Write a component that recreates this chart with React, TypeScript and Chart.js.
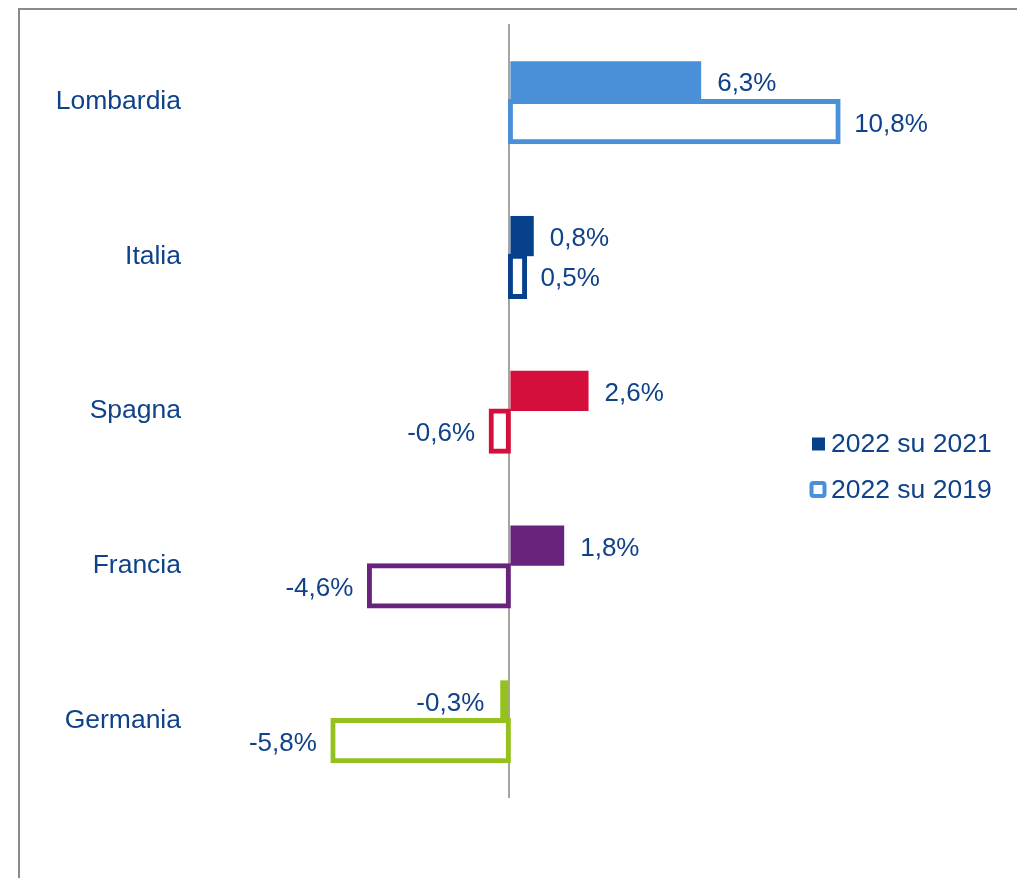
import React, { useEffect, useRef } from "react";
import { Chart, registerables } from "chart.js";

Chart.register(...registerables);

const categories = ["Lombardia", "Italia", "Spagna", "Francia", "Germania"];
const seriesLabels = ["2022 su 2021", "2022 su 2019"];
const values2021 = [6.3, 0.8, 2.6, 1.8, -0.3];
const values2019 = [10.8, 0.5, -0.6, -4.6, -5.8];
const categoryColors = ["#4a90d9", "#07418b", "#d40f3c", "#68237c", "#95c11f"];
const xMin = -10;
const xMax = 15;

const TEXT = "#0f4288";
const FONT = "'Liberation Sans', Arial, sans-serif";

const fmt = (v: number) => v.toFixed(1).replace(".", ",") + "%";

const framePlugin = {
  id: "frame",
  beforeDraw(chart: any) {
    const ctx = chart.ctx;
    ctx.save();
    ctx.strokeStyle = "#8a8a8a";
    ctx.lineWidth = 2;
    ctx.beginPath();
    ctx.moveTo(19, chart.height);
    ctx.lineTo(19, 9);
    ctx.lineTo(chart.width, 9);
    ctx.stroke();
    ctx.restore();
  },
};

const labelPlugin = {
  id: "valueLabels",
  afterDatasetsDraw(chart: any) {
    const ctx = chart.ctx;
    ctx.save();
    ctx.font = `26px ${FONT}`;
    ctx.fillStyle = TEXT;
    ctx.textBaseline = "middle";
    chart.data.datasets.forEach((ds: any, di: number) => {
      const meta = chart.getDatasetMeta(di);
      meta.data.forEach((el: any, i: number) => {
        const v = ds.data[i] as number;
        const gap = 16;
        if (v >= 0) {
          ctx.textAlign = "left";
          ctx.fillText(fmt(v), el.x + gap, el.y + 3);
        } else {
          ctx.textAlign = "right";
          ctx.fillText(fmt(v), el.x - gap, el.y + 3);
        }
      });
    });
    ctx.restore();
  },
};

const legendPlugin = {
  id: "customLegend",
  afterDraw(chart: any) {
    const ctx = chart.ctx;
    ctx.save();
    ctx.font = `26.5px ${FONT}`;
    ctx.textBaseline = "middle";
    ctx.textAlign = "left";
    const x0 = 812;
    const y1 = 444;
    const y2 = 490;
    ctx.fillStyle = categoryColors[1];
    ctx.fillRect(x0, y1 - 6.5, 13, 13);
    ctx.strokeStyle = categoryColors[0];
    ctx.lineWidth = 4;
    ctx.beginPath();
    (ctx as any).roundRect(x0 - 0.5, y2 - 7, 13, 13, 2);
    ctx.stroke();
    ctx.fillStyle = TEXT;
    ctx.fillText(chart.data.datasets[0].label, 831, y1 + 1);
    ctx.fillText(chart.data.datasets[1].label, 831, y2 + 1);
    ctx.restore();
  },
};

export default function App() {
  const ref = useRef<HTMLCanvasElement | null>(null);

  useEffect(() => {
    if (!ref.current) return;
    const chart = new Chart(ref.current, {
      type: "bar",
      data: {
        labels: categories,
        datasets: [
          {
            label: seriesLabels[0],
            data: values2021,
            backgroundColor: categoryColors,
            borderWidth: 0,
            inflateAmount: 0,
          } as any,
          {
            label: seriesLabels[1],
            data: values2019,
            backgroundColor: "#ffffff",
            borderColor: categoryColors,
            borderWidth: 5,
            borderSkipped: false,
            inflateAmount: 2.5,
          } as any,
        ],
      },
      options: {
        indexAxis: "y",
        responsive: false,
        animation: false,
        devicePixelRatio: 1,
        categoryPercentage: 0.52,
        barPercentage: 1.0,
        layout: { padding: { top: 24, bottom: 80, left: 0, right: 51 } },
        plugins: {
          legend: { display: false },
          tooltip: { enabled: false },
        },
        scales: {
          x: {
            min: xMin,
            max: xMax,
            ticks: { display: false, stepSize: 5 },
            border: { display: false },
            grid: {
              drawTicks: false,
              lineWidth: 2,
              color: (c: any) =>
                c.tick && c.tick.value === 0 ? "#a6a6a0" : "rgba(0,0,0,0)",
            },
            afterFit: (s: any) => {
              s.height = 0;
              s.paddingLeft = 0;
              s.paddingRight = 0;
            },
          },
          y: {
            ticks: {
              color: TEXT,
              font: { family: FONT, size: 26.5 },
              padding: 24,
            },
            grid: { display: false, drawTicks: false },
            border: { display: false },
            afterFit: (s: any) => {
              s.width = 205;
              s.paddingTop = 0;
              s.paddingBottom = 0;
            },
          },
        },
      } as any,
      plugins: [framePlugin, labelPlugin, legendPlugin],
    });
    return () => chart.destroy();
  }, []);

  return (
    <div style={{ position: "absolute", left: 0, top: 0, width: 1017, height: 878, background: "#fff" }}>
      <canvas ref={ref} width={1017} height={878} style={{ display: "block" }} />
    </div>
  );
}
